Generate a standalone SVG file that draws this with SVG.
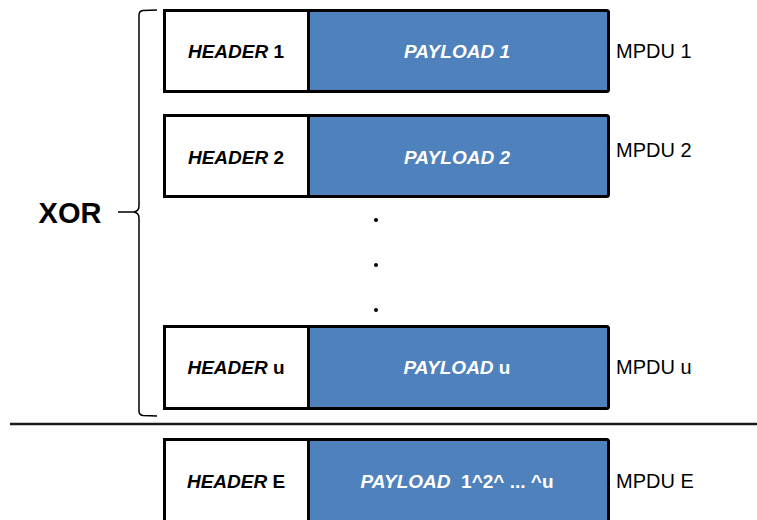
<svg xmlns="http://www.w3.org/2000/svg" width="757" height="520" viewBox="0 0 757 520">
  <style>
    .hdr { fill: #ffffff; stroke: #000000; stroke-width: 3; }
    .pay { fill: #4f81bd; stroke: #000000; stroke-width: 3; }
    .htxt { font-family: "Liberation Sans", Arial, sans-serif; font-size: 19px; font-weight: bold; fill: #000000; }
    .ptxt { font-family: "Liberation Sans", Arial, sans-serif; font-size: 19px; font-weight: bold; fill: #ffffff; }
    .lbl { font-family: "Liberation Sans", Arial, sans-serif; font-size: 20px; fill: #000000; }
    .it { font-style: italic; }
  </style>
  <rect width="757" height="520" fill="#ffffff"/>

  <g id="mpdu1">
    <rect class="hdr" x="164.5" y="10.5" width="144" height="81"/>
    <rect class="pay" x="308.5" y="10.5" width="300" height="81" rx="2"/>
    <text class="htxt" x="236" y="58" text-anchor="middle"><tspan class="it">HEADER</tspan> 1</text>
    <text class="ptxt it" x="457" y="58" text-anchor="middle">PAYLOAD 1</text>
    <text class="lbl" x="616" y="58">MPDU 1</text>
  </g>

  <g id="mpdu2">
    <rect class="hdr" x="164.5" y="115.5" width="144" height="81"/>
    <rect class="pay" x="308.5" y="115.5" width="300" height="81" rx="2"/>
    <text class="htxt" x="236" y="164" text-anchor="middle"><tspan class="it">HEADER</tspan> 2</text>
    <text class="ptxt it" x="457" y="164" text-anchor="middle">PAYLOAD 2</text>
    <text class="lbl" x="616" y="157">MPDU 2</text>
  </g>

  <g id="ellipsis">
    <circle cx="376" cy="220" r="2"/>
    <circle cx="376" cy="265" r="2"/>
    <circle cx="376" cy="310" r="2"/>
  </g>

  <g id="mpduu">
    <rect class="hdr" x="164.5" y="326.5" width="144" height="82"/>
    <rect class="pay" x="308.5" y="326.5" width="300" height="82" rx="2"/>
    <text class="htxt" x="236" y="374" text-anchor="middle"><tspan class="it">HEADER</tspan> u</text>
    <text class="ptxt" x="457" y="374" text-anchor="middle"><tspan class="it">PAYLOAD</tspan> u</text>
    <text class="lbl" x="616" y="374">MPDU u</text>
  </g>

  <g id="xor">
    <path d="M157 10 L143 10.5 Q139 11 139 15 L139 206 Q139 211 134 212 L118 212 M134 212 Q139 213 139 218 L139 411 Q139 415 143 415.5 L157 416" fill="none" stroke="#000000" stroke-width="1.5"/>
    <text x="70" y="223" text-anchor="middle" font-family="Liberation Sans, Arial, sans-serif" font-size="29" font-weight="bold">XOR</text>
  </g>

  <g id="connectors">
    <line x1="10" y1="424" x2="757" y2="424" stroke="#1a1a1a" stroke-width="2.5"/>
  </g>

  <g id="mpduE">
    <rect class="hdr" x="164.5" y="439.5" width="144" height="90"/>
    <rect class="pay" x="308.5" y="439.5" width="300" height="90" rx="2"/>
    <text class="htxt" x="236" y="488" text-anchor="middle"><tspan class="it">HEADER</tspan> E</text>
    <text class="ptxt" x="457" y="488" text-anchor="middle" xml:space="preserve"><tspan class="it">PAYLOAD</tspan>  1^2^ ... ^u</text>
    <text class="lbl" x="616" y="488">MPDU E</text>
  </g>
</svg>
